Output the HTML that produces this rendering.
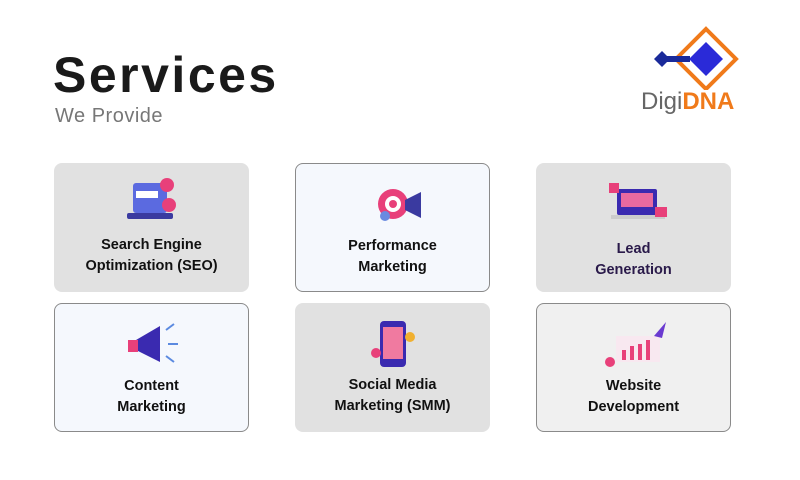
<!DOCTYPE html>
<html><head><meta charset="utf-8"><style>
body{margin:0;width:800px;height:480px;background:#fff;position:relative;overflow:hidden;font-family:"Liberation Sans",sans-serif}
.t{position:absolute;left:53px;top:46px;font-size:50px;font-weight:bold;color:#1a1a1a;letter-spacing:2.5px}
.s{position:absolute;left:55px;top:105px;font-size:20px;color:#777;letter-spacing:0.5px}
.c{position:absolute;width:195px;height:129px;border-radius:8px;box-sizing:border-box}
.g{background:#e1e1e1}
.l{background:#f5f8fd;border:1px solid #8a8a8a}
.w{background:#f0f0f0;border:1px solid #8a8a8a}
.c p{position:absolute;left:0;right:0;top:72px;margin:0;text-align:center;font-weight:bold;font-size:14.5px;line-height:21px;color:#111}
.c svg{position:absolute;left:67px;top:12px}
</style></head><body>
<div class="t">Services</div>
<div class="s">We Provide</div>
<svg style="position:absolute;left:648px;top:26px" width="94" height="64" viewBox="0 0 94 64">
<polygon points="58,3 88,33 58,63 28,33" fill="none" stroke="#f07a1a" stroke-width="4"/>
<polygon points="58,16 75,33 58,50 41,33" fill="#2a2ad8"/>
<polygon points="14,25 22,33 14,41 6,33" fill="#1a2a9a"/>
<rect x="18" y="30" width="24" height="6" fill="#1a2a9a"/>
</svg>
<div style="position:absolute;left:641px;top:88px;font-size:24px;color:#666">Digi<b style="color:#f07a1a">DNA</b></div>

<div class="c g" style="left:54px;top:163px"><svg width="60" height="55"><rect x="12" y="8" width="34" height="30" rx="3" fill="#5b6ae0"/><rect x="15" y="16" width="22" height="7" fill="#fff"/><rect x="6" y="38" width="46" height="6" rx="2" fill="#3a3aa0"/><circle cx="48" cy="30" r="7" fill="#e8407a"/><circle cx="46" cy="10" r="7" fill="#e8407a"/></svg><p>Search Engine<br>Optimization (SEO)</p></div>
<div class="c l" style="left:295px;top:163px"><svg width="70" height="55"><circle cx="30" cy="28" r="15" fill="#e8407a"/><circle cx="30" cy="28" r="8" fill="#fff"/><circle cx="30" cy="28" r="4" fill="#e8407a"/><polygon points="42,24 58,16 58,42 42,34" fill="#3a3aa0"/><circle cx="22" cy="40" r="5" fill="#6a8ae0"/></svg><p>Performance<br>Marketing</p></div>
<div class="c g" style="left:536px;top:163px"><svg width="70" height="55"><rect x="14" y="14" width="40" height="26" rx="2" fill="#3a2ab0"/><rect x="18" y="18" width="32" height="14" fill="#e86aa0"/><rect x="8" y="40" width="54" height="4" fill="#ccc"/><rect x="52" y="32" width="12" height="10" fill="#e8407a"/><rect x="6" y="8" width="10" height="10" fill="#e8407a"/></svg><p style="top:76px;color:#2a1a4a">Lead<br>Generation</p></div>

<div class="c l" style="left:54px;top:303px"><svg width="60" height="55"><polygon points="14,24 38,10 38,46 14,34" fill="#3a2ab0"/><rect x="6" y="24" width="10" height="12" fill="#e8407a"/><path d="M44 14 L52 8 M46 28 L56 28 M44 40 L52 46" stroke="#5b8ae0" stroke-width="2"/></svg><p>Content<br>Marketing</p></div>
<div class="c g" style="left:295px;top:303px"><svg width="60" height="55"><rect x="18" y="6" width="26" height="46" rx="4" fill="#3a2ab0"/><rect x="21" y="12" width="20" height="32" fill="#f07aa0"/><circle cx="14" cy="38" r="5" fill="#e8407a"/><circle cx="48" cy="22" r="5" fill="#f0b030"/></svg><p>Social Media<br>Marketing (SMM)</p></div>
<div class="c w" style="left:536px;top:303px"><svg width="70" height="55"><rect x="12" y="20" width="44" height="26" fill="#f8e8f0"/><rect x="18" y="34" width="4" height="10" fill="#e8407a"/><rect x="26" y="30" width="4" height="14" fill="#e8407a"/><rect x="34" y="28" width="4" height="16" fill="#e8407a"/><rect x="42" y="24" width="4" height="20" fill="#e8407a"/><polygon points="50,20 62,6 58,22" fill="#6a3ad0"/><circle cx="6" cy="46" r="5" fill="#e8407a"/></svg><p>Website<br>Development</p></div>
</body></html>
